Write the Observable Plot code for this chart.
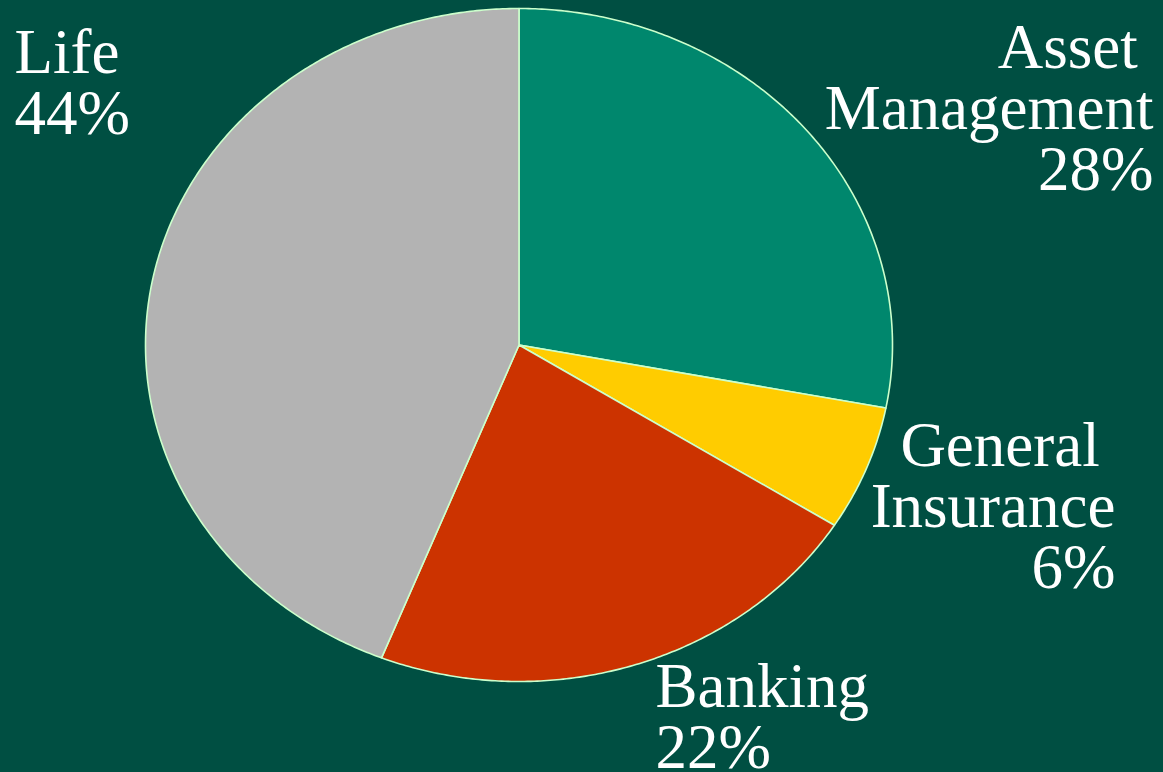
<!DOCTYPE html>
<html>
<head>
<meta charset="utf-8">
<script src="https://cdn.jsdelivr.net/npm/d3@7"></script>
<script src="https://cdn.jsdelivr.net/npm/@observablehq/plot@0.6"></script>
<style>
  html, body { margin: 0; padding: 0; background: #004f42; overflow: hidden; }
  #chart svg { display: block; }
</style>
</head>
<body>
<div id="chart"></div>
<script>
// ---- data ----
const segments = ["Asset Management", "General Insurance", "Banking", "Life"];
const shares = [28, 6, 22, 44];
const labelLines = [
  ["Asset\u00A0", "Management", "28%"],
  ["General\u00A0", "Insurance", "6%"],
  ["Banking", "22%"],
  ["Life", "44%"]
];
const colors = ["#00876d", "#ffcc00", "#cc3300", "#b3b3b3"];

// ---- layout (pixels) ----
const W = 1163, H = 772;
const cx = 518.5, cy = 344.5, rx = 373.5, ry = 336.5;
const fontSize = 63, lineH = 61 / 63;
const labelLayout = [
  {x: 1153, y: 189, anchor: "end"},
  {x: 1115, y: 587, anchor: "end"},
  {x: 655, y: 767, anchor: "start"},
  {x: 14, y: 133, anchor: "start"}
];

// build slice outlines (unit circle, clockwise from 12 o'clock)
const total = d3.sum(shares);
const pts = [];
let acc = 0;
segments.forEach((name, i) => {
  const a0 = acc / total * 2 * Math.PI;
  acc += shares[i];
  const a1 = acc / total * 2 * Math.PI;
  pts.push({name, x: 0, y: 0});
  const steps = Math.max(2, Math.ceil((a1 - a0) / (Math.PI / 360)));
  for (let k = 0; k <= steps; k++) {
    const a = a0 + (a1 - a0) * k / steps;
    pts.push({name, x: Math.sin(a), y: Math.cos(a)});
  }
  pts.push({name, x: 0, y: 0});
});

const textMarks = segments.map((name, i) => Plot.text([labelLines[i].join("\n")], {
  frameAnchor: "top-left",
  dx: labelLayout[i].x,
  dy: labelLayout[i].y,
  text: d => d,
  textAnchor: labelLayout[i].anchor,
  lineAnchor: "bottom",
  lineHeight: lineH,
  fontSize,
  fill: "white",
  fontFamily: "Liberation Serif, Times New Roman, serif"
}));

const chart = Plot.plot({
  width: W,
  height: H,
  margin: 0,
  style: {background: "#004f42", overflow: "visible"},
  x: {domain: [-1, 1], range: [cx - rx, cx + rx], axis: null},
  y: {domain: [-1, 1], range: [cy + ry, cy - ry], axis: null},
  color: {domain: segments, range: colors},
  marks: [
    Plot.line(pts, {
      x: "x", y: "y", z: "name", fill: "name",
      stroke: "#ccffcc", strokeWidth: 1.6, strokeLinejoin: "round", curve: "linear"
    }),
    ...textMarks
  ]
});
document.getElementById("chart").appendChild(chart);
</script>
</body>
</html>
